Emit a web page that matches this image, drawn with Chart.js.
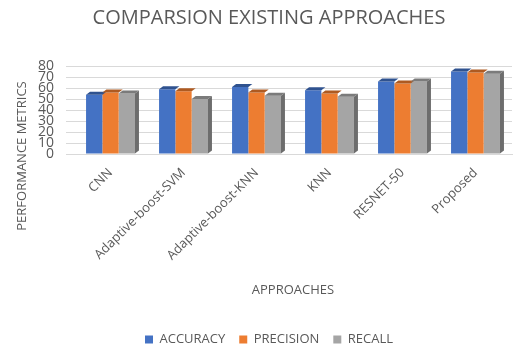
<!DOCTYPE html>
<html>
<head>
<meta charset="utf-8">
<script src="https://cdn.jsdelivr.net/npm/chart.js@4"></script>
<style>
  html, body { margin: 0; padding: 0; background: #fff; }
  #wrap { width: 524px; height: 349px; }
</style>
</head>
<body>
<div id="wrap"><canvas id="myChart" width="524" height="349"></canvas></div>
<script>
const approaches = ['CNN', 'Adaptive-boost-SVM', 'Adaptive-boost-KNN', 'KNN', 'RESNET-50', 'Proposed'];
const accuracy = [54, 59, 61, 58, 66, 75];
const precision = [56, 57, 56, 55, 64, 74];
const recall = [55, 50, 53, 52, 66, 73];
const yTicks = [0, 10, 20, 30, 40, 50, 60, 70, 80];

const fontName = "'Open Sans', 'Noto Sans', sans-serif";
const textGrey = '#595959';

// fake the excel 3d look: top faces on every bar, side face on the last one
const bar3d = {
    id: 'bar3d',
    afterDatasetsDraw(chart) {
        const ctx = chart.ctx;
        const dx = 4, dy = 3;
        const tops = ['#2f528f', '#ae5a21', '#7b7b7b'];
        chart.data.datasets.forEach((ds, i) => {
            const meta = chart.getDatasetMeta(i);
            meta.data.forEach(bar => {
                const l = bar.x - bar.width / 2, r = bar.x + bar.width / 2;
                ctx.save();
                ctx.fillStyle = tops[i];
                ctx.beginPath();
                ctx.moveTo(l, bar.y);
                ctx.lineTo(l + dx, bar.y - dy);
                ctx.lineTo(r + dx, bar.y - dy);
                ctx.lineTo(r, bar.y);
                ctx.closePath();
                ctx.fill();
                if (i === chart.data.datasets.length - 1) {
                    ctx.fillStyle = '#6d6d6d';
                    ctx.beginPath();
                    ctx.moveTo(r, bar.y);
                    ctx.lineTo(r + dx, bar.y - dy);
                    ctx.lineTo(r + dx, bar.base - dy);
                    ctx.lineTo(r, bar.base);
                    ctx.closePath();
                    ctx.fill();
                }
                ctx.restore();
            });
        });
    }
};

// y title sits centred on the whole plot block in the original, not only the bars
const yTitle = {
    id: 'yTitle',
    afterDraw(chart) {
        const ctx = chart.ctx;
        ctx.save();
        ctx.translate(22, 156);
        ctx.rotate(-Math.PI / 2);
        ctx.fillStyle = textGrey;
        ctx.font = '13px ' + fontName;
        ctx.textAlign = 'center';
        ctx.textBaseline = 'middle';
        ctx.fillText('PERFORMANCE METRICS', 0, 0);
        ctx.restore();
    }
};

const ctx = document.getElementById('myChart').getContext('2d');
const myChart = new Chart(ctx, {
    type: 'bar',
    data: {
        labels: approaches,
        datasets: [
            { label: 'ACCURACY', data: accuracy, backgroundColor: '#4472c4' },
            { label: 'PRECISION', data: precision, backgroundColor: '#ed7d31' },
            { label: 'RECALL', data: recall, backgroundColor: '#a5a5a5' }
        ]
    },
    plugins: [bar3d, yTitle],
    options: {
        responsive: false,
        animation: false,
        devicePixelRatio: 1,
        layout: { padding: { left: 26, right: 12, top: 0, bottom: -7 } },
        datasets: {
            bar: { categoryPercentage: 0.67, barPercentage: 1.0 }
        },
        plugins: {
            title: {
                display: true,
                text: 'COMPARSION EXISTING APPROACHES',
                color: textGrey,
                font: { family: fontName, size: 20, weight: 'normal' },
                padding: { top: 6, bottom: 36 }
            },
            legend: {
                position: 'bottom',
                labels: {
                    color: textGrey,
                    font: { family: fontName, size: 13 },
                    boxWidth: 8,
                    boxHeight: 8,
                    padding: 14
                }
            },
            tooltip: { enabled: false }
        },
        scales: {
            x: {
                grid: { display: false },
                border: { color: '#d9d9d9' },
                ticks: {
                    color: textGrey,
                    font: { family: fontName, size: 13 },
                    minRotation: 45,
                    maxRotation: 45,
                    autoSkip: false
                },
                title: {
                    display: true,
                    text: 'APPROACHES',
                    color: textGrey,
                    font: { family: fontName, size: 13 },
                    padding: { top: 16, bottom: 21 }
                }
            },
            y: {
                min: 0,
                max: 80,
                afterBuildTicks(scale) {
                    scale.ticks = yTicks.map(v => ({ value: v }));
                },
                grid: { color: '#d9d9d9' },
                border: { display: false },
                ticks: {
                    color: textGrey,
                    font: { family: fontName, size: 14 },
                    autoSkip: false,
                    padding: 12
                }
            }
        }
    }
});
</script>
</body>
</html>
